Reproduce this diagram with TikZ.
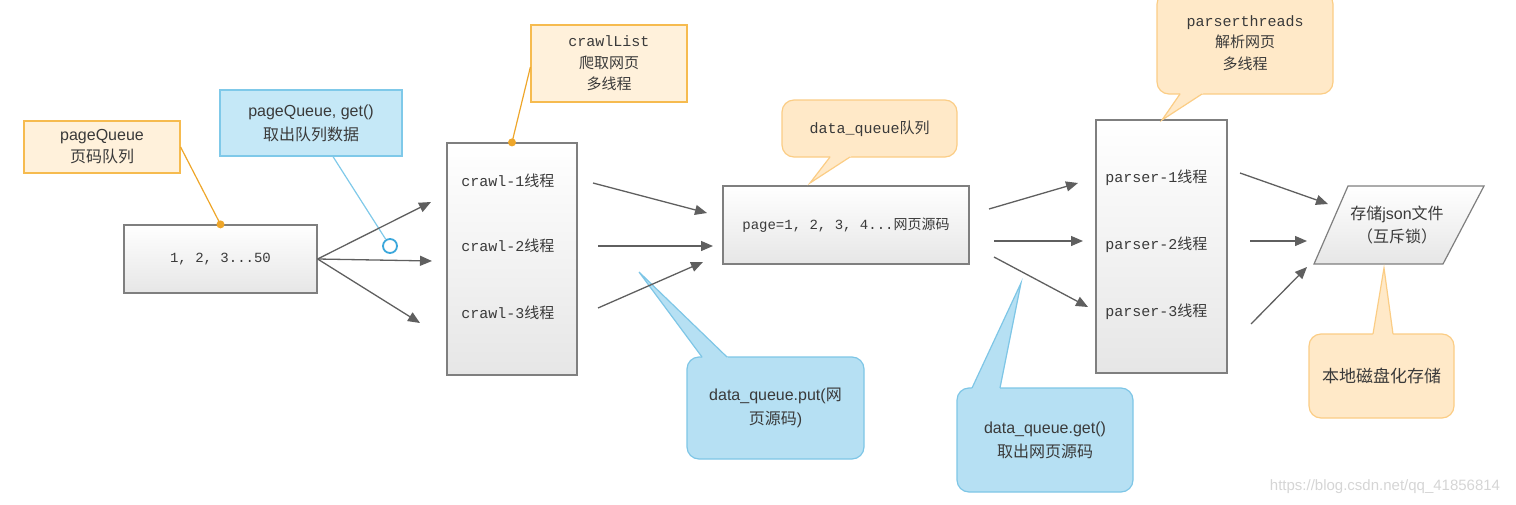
\documentclass[tikz,border=0pt]{standalone}
\usepackage{fontspec}
\setmainfont{Liberation Sans}
\setmonofont{Liberation Mono}
\newfontfamily\cjk{Noto Sans CJK SC}
\newcommand{\zh}[1]{{\cjk #1}}
\newcommand{\mono}[1]{{\ttfamily #1}}
\usetikzlibrary{arrows.meta,calc}

\definecolor{notefill}{HTML}{FFF1DB}
\definecolor{noteline}{HTML}{F6BB4F}
\definecolor{callofill}{HTML}{FFE9C8}
\definecolor{calloline}{HTML}{FBCD85}
\definecolor{bluefill}{HTML}{C5E8F7}
\definecolor{blueline}{HTML}{7FC9E9}
\definecolor{callbfill}{HTML}{B6E0F3}
\definecolor{callbline}{HTML}{7EC6E6}
\definecolor{boxgray}{HTML}{7F7F7F}
\definecolor{boxbottom}{HTML}{E6E6E6}
\definecolor{arrowgray}{HTML}{5F5F5F}
\definecolor{txtgray}{HTML}{3A3A3A}
\definecolor{ringblue}{HTML}{3BA7DB}
\definecolor{linkorange}{HTML}{EEA62A}
\definecolor{marktext}{HTML}{D5D5D5}

\tikzset{
  every node/.style={text=txtgray},
  graybox/.style={draw=boxgray, line width=0.6pt, top color=white, bottom color=boxbottom, inner sep=0pt},
  notebox/.style={draw=noteline, fill=notefill, line width=0.6pt, inner sep=0pt, align=center, font=\fontsize{8}{11}\selectfont},
  bluebox/.style={notebox, draw=blueline, fill=bluefill, font=\fontsize{8}{12}\selectfont},
  callorange/.style={draw=calloline, fill=callofill, line width=0.6pt, rounded corners=6pt, inner sep=0pt, align=center, font=\fontsize{7.5}{10.75}\selectfont},
  callblue/.style={callorange, draw=callbline, fill=callbfill, font=\fontsize{8}{12}\selectfont},
  threadtext/.style={anchor=west, inner sep=0pt, font=\ttfamily\fontsize{7.5}{9}\selectfont},
  flow/.style={draw=arrowgray, line width=0.65pt, -{Triangle[length=6pt,width=5pt]}},
  link/.style={draw=linkorange, line width=0.6pt},
}

\begin{document}
\begin{tikzpicture}[x=0.5pt,y=-0.5pt]
  \useasboundingbox (0,0) rectangle (1516,504);

  % callout pointers
  \coordinate (qb1) at (830,157); \coordinate (qtip) at (810,183); \coordinate (qb2) at (850,157);
  \coordinate (pb1) at (702,357); \coordinate (ptip) at (639,272); \coordinate (pb2) at (727,357);
  \coordinate (gb1) at (972,388); \coordinate (gtip) at (1021,283); \coordinate (gb2) at (1000,388);
  \coordinate (rb1) at (1180,94); \coordinate (rtip) at (1162,120); \coordinate (rb2) at (1202,94);
  \coordinate (db1) at (1373,334); \coordinate (dtip) at (1384,268); \coordinate (db2) at (1393,334);

  % boxes
  \node[notebox, minimum width=78pt, minimum height=26pt] (pagenote) at (102,147) {pageQueue\\\zh{页码队列}};
  \node[graybox, minimum width=96.5pt, minimum height=34pt, font=\ttfamily\fontsize{7}{9}\selectfont] (pages) at (220.5,259) {1, 2, 3...50};
  \node[bluebox, minimum width=91pt, minimum height=33pt] (getnote) at (311,123) {pageQueue, get()\\\zh{取出队列数据}};
  \node[graybox, minimum width=65pt, minimum height=116pt] (crawl) at (512,259) {};
  \node[notebox, minimum width=78pt, minimum height=38.5pt, font=\fontsize{7.5}{10.75}\selectfont] (crawlnote) at (609,63.5) {\mono{crawlList}\\\zh{爬取网页}\\\zh{多线程}};
  \node[graybox, minimum width=123pt, minimum height=39pt, font=\ttfamily\fontsize{7}{9}\selectfont] (page) at (846,225) {page=1, 2, 3, 4...\zh{网页源码}};
  \node[graybox, minimum width=65.5pt, minimum height=126.5pt] (parser) at (1161.5,246.5) {};
  \shade[draw=boxgray, line width=0.6pt, top color=white, bottom color=boxbottom]
    (1348,186) -- (1484,186) -- (1443,264) -- (1314,264) -- cycle;
  \node[align=center, inner sep=0pt, font=\fontsize{8}{11.5}\selectfont] (store) at (1397,225) {\zh{存储}json\zh{文件}\\\zh{（互斥锁）}};

  % thread labels
  \node[threadtext] (crawl1) at (461,181) {crawl-1\zh{线程}};
  \node[threadtext] (crawl2) at (461,246) {crawl-2\zh{线程}};
  \node[threadtext] (crawl3) at (461,313) {crawl-3\zh{线程}};
  \node[threadtext] (parser1) at (1105,178) {parser-1\zh{线程}};
  \node[threadtext] (parser2) at (1105,245) {parser-2\zh{线程}};
  \node[threadtext] (parser3) at (1105,312) {parser-3\zh{线程}};

  % callouts
  \node[callorange, minimum width=87.5pt, minimum height=28.5pt] (queuenote) at (869.5,128.5) {\mono{data\_queue}\zh{队列}};
  \node[callblue, minimum width=88.5pt, minimum height=51pt] (putnote) at (775.5,408) {data\_queue.put(\zh{网}\\\zh{页源码})};
  \node[callblue, minimum width=88pt, minimum height=52pt] (getqnote) at (1045,440) {data\_queue.get()\\\zh{取出网页源码}};
  \node[callorange, minimum width=88pt, minimum height=51pt] (parsernote) at (1245,43) {\mono{parserthreads}\\\zh{解析网页}\\\zh{多线程}};
  \node[callorange, minimum width=72.5pt, minimum height=42pt, font=\fontsize{8.5}{11}\selectfont] (disknote) at (1381.5,376) {\zh{本地磁盘化存储}};
  \foreach \b/\t/\c/\f/\l in {qb1/qtip/qb2/callofill/calloline, pb1/ptip/pb2/callbfill/callbline,
      gb1/gtip/gb2/callbfill/callbline, rb1/rtip/rb2/callofill/calloline, db1/dtip/db2/callofill/calloline}{
    \fill[\f] ($(\b)!-0.12!(\t)$) -- (\t) -- ($(\c)!-0.12!(\t)$) -- cycle;
    \draw[\l, line width=0.6pt] (\b) -- (\t) -- (\c);
  }

  % note links
  \draw[link] (pagenote.east) -- (pages.north);
  \fill[linkorange] (pages.north) circle (2pt);
  \draw[link] (crawl.north) -- ([yshift=-1.75pt]crawlnote.west);
  \fill[linkorange] (crawl.north) circle (2pt);
  \node[circle, draw=ringblue, line width=0.9pt, fill=white, minimum size=7pt, inner sep=0pt] (ring) at (390,246) {};
  \draw[blueline, line width=0.6pt] ([xshift=11pt]getnote.south) -- (ring);

  % arrows
  \coordinate (f1) at (431,202); \coordinate (f2) at (432,261); \coordinate (f3) at (420,323);
  \coordinate (s1) at (593,183); \coordinate (e1) at (707,213);
  \coordinate (s2) at (598,246); \coordinate (e2) at (713,246);
  \coordinate (s3) at (598,308); \coordinate (e3) at (703,262);
  \coordinate (s4) at (989,209); \coordinate (e4) at (1078,183);
  \coordinate (s5) at (994,241); \coordinate (e5) at (1083,241);
  \coordinate (s6) at (994,257); \coordinate (e6) at (1088,307);
  \coordinate (s7) at (1240,173); \coordinate (e7) at (1328,204);
  \coordinate (s8) at (1250,241); \coordinate (e8) at (1307,241);
  \coordinate (s9) at (1251,324); \coordinate (e9) at (1307,267);
  \foreach \s/\e in {pages.east/f1, pages.east/f2, pages.east/f3, s1/e1, s2/e2, s3/e3,
      s4/e4, s5/e5, s6/e6, s7/e7, s8/e8, s9/e9}
    \draw[flow] (\s) -- (\e);

  % watermark
  \node[text=marktext, font=\fontsize{7.5}{9}\selectfont] (mark) at (1385,487) {https://blog.csdn.net/qq\_41856814};
\end{tikzpicture}
\end{document}
